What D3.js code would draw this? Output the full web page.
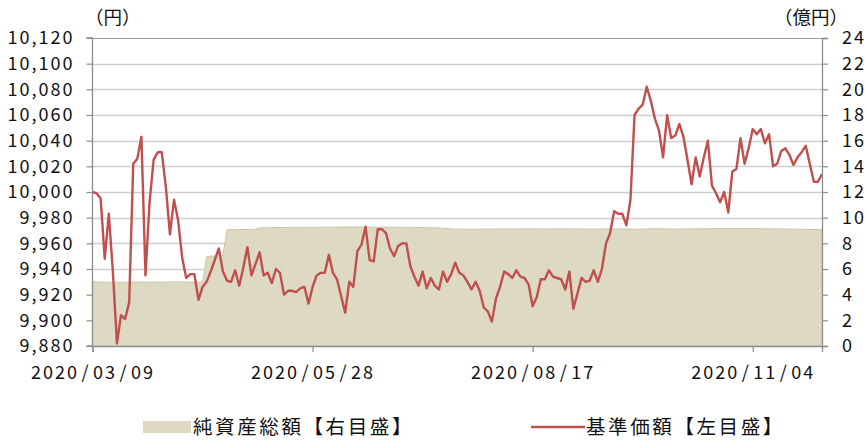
<!DOCTYPE html>
<html><head><meta charset="utf-8">
<script src="https://cdn.jsdelivr.net/npm/d3@7"></script>
<style>
html,body{margin:0;padding:0;background:#fff;}
svg{display:block;}
text{font-family:"Noto Sans CJK JP","Noto Sans",sans-serif;fill:#111;}
</style></head>
<body>
<svg id="c" width="867" height="441"></svg>
<script>
// ---- data ----
const tickLabels = ["2020/03/09","2020/05/28","2020/08/17","2020/11/04"];
const tickIndex = [0,54,108,162];
const leftTicks = [9880,9900,9920,9940,9960,9980,10000,10020,10040,10060,10080,10100,10120];
const rightTicks = [0,2,4,6,8,10,12,14,16,18,20,22,24];
const navPrice = [
10000,9999,9995,9948,9983,9938,9882,9904,9901,9914,
10022,10026,10043,9935,9992,10025,10031,10031,10004,9967,
9994,9978,9949,9933,9936,9936,9916,9926,9930,9938,
9947,9956,9938,9931,9930,9939,9927,9941,9957,9935,
9944,9953,9935,9937,9929,9940,9937,9920,9923,9923,
9922,9925,9926,9913,9926,9935,9937,9937,9951,9937,
9932,9919,9906,9930,9926,9954,9959,9973,9947,9946,
9971,9971,9968,9956,9950,9958,9960,9960,9942,9934,
9927,9938,9925,9933,9927,9924,9938,9930,9936,9945,
9937,9935,9930,9924,9930,9923,9910,9907,9899,9917,
9926,9938,9936,9933,9939,9934,9933,9928,9911,9918,
9932,9932,9939,9934,9933,9932,9924,9938,9909,9921,
9933,9930,9931,9939,9930,9940,9960,9968,9985,9983,
9983,9974,9994,10060,10065,10068,10082,10071,10057,10048,
10027,10060,10042,10044,10053,10043,10025,10006,10027,10012,
10027,10040,10005,9999,9992,10000,9984,10016,10018,10042,
10022,10034,10049,10045,10049,10038,10045,10020,10022,10032,
10034,10029,10021,10027,10031,10036,10022,10008,10008,10014
];
const netAssets = [
5.00,5.00,4.98,4.97,4.98,4.97,4.96,4.97,4.97,4.97,
4.98,4.98,4.98,4.97,4.98,4.98,4.98,4.98,4.98,4.99,
4.99,4.99,4.99,4.98,4.98,4.97,4.97,4.98,
6.95,7.00,7.02,7.03,7.05,
9.05,9.07,9.07,9.07,9.07,9.08,9.08,9.10,
9.20,9.21,9.22,9.22,9.23,9.23,9.23,9.24,9.24,9.24,
9.24,9.25,9.25,9.25,9.25,9.25,9.26,9.26,9.26,9.27,
9.27,9.27,9.28,9.28,9.28,9.28,9.27,9.27,9.27,9.26,
9.26,9.26,9.26,9.25,9.25,9.25,9.24,9.24,9.24,9.23,
9.23,9.22,9.22,9.21,9.20,9.18,9.15,
9.12,9.11,9.11,9.11,9.10,9.10,9.10,9.10,9.11,9.11,
9.11,9.11,9.12,9.12,9.12,9.12,9.12,9.13,9.13,9.13,
9.13,9.13,9.12,9.12,9.12,9.12,9.13,9.13,9.13,9.13,
9.12,9.12,9.12,9.12,9.11,9.11,9.11,9.12,9.12,9.12,
9.12,9.12,9.12,9.11,9.11,9.10,9.10,9.11,9.12,9.13,
9.14,9.14,9.13,9.12,9.12,9.11,9.11,9.12,9.12,9.13,
9.13,9.14,9.14,9.14,9.15,9.15,9.15,9.15,9.16,9.16,
9.16,9.16,9.16,9.15,9.15,9.15,9.14,9.14,9.13,9.13,
9.13,9.12,9.12,9.11,9.11,9.10,9.10,9.09,9.08,9.08,9.07,9.07
];
const legendLabels = ["純資産総額【右目盛】","基準価額【左目盛】"];
const unitLeft = "（円）", unitRight = "（億円）";

// ---- layout ----
const L = 92.5, R = 822, T = 38, B = 346;
const svg = d3.select("#c");
const x = d3.scaleLinear().domain([0, navPrice.length - 1]).range([L, R]);
const yL = d3.scaleLinear().domain([9880, 10120]).range([B, T]);
const yR = d3.scaleLinear().domain([0, 24]).range([B, T]);

// gridlines
svg.append("g").selectAll("line").data(leftTicks.slice(1)).join("line")
  .attr("x1", L).attr("x2", R)
  .attr("y1", d => Math.round(yL(d)) + 0.5).attr("y2", d => Math.round(yL(d)) + 0.5)
  .attr("stroke", d => d === 10120 ? "#9a9a9a" : "#cfcfcf")
  .attr("stroke-width", d => d === 10120 ? 1.2 : 1.6);

// area (net assets, right axis)
const area = d3.area().x((d, i) => x(i)).y0(B).y1(d => yR(d));
svg.append("path").datum(netAssets).attr("d", area)
  .attr("fill", "#ddd9c3").attr("stroke", "#cdc6a8").attr("stroke-width", 1);

// line (NAV price, left axis)
const line = d3.line().x((d, i) => x(i)).y(d => yL(d));
svg.append("path").datum(navPrice).attr("d", line)
  .attr("fill", "none").attr("stroke", "#c0504d").attr("stroke-width", 2.4)
  .attr("stroke-linejoin", "round");

// axes
const axL = d3.axisLeft(yL).tickValues(leftTicks).tickSize(6).tickPadding(12).tickFormat(d3.format(","));
const axR = d3.axisRight(yR).tickValues(rightTicks).tickSize(6).tickPadding(14);
const axB = d3.axisBottom(x).tickValues(tickIndex).tickSize(6).tickPadding(14)
  .tickFormat((d, i) => tickLabels[i]);

function styleAxis(g) {
  g.select(".domain").attr("stroke", "#8c8c8c").attr("stroke-width", 1.3);
  g.selectAll(".tick line").attr("stroke", "#8c8c8c").attr("stroke-width", 1.2);
  g.selectAll(".tick text").attr("font-size", 18)
    .attr("font-family", '"Noto Sans CJK JP","Noto Sans",sans-serif').attr("fill", "#111");
}
svg.append("g").attr("transform", `translate(${L},0)`).call(axL).call(styleAxis)
  .call(g => g.select(".domain").attr("d", `M-6,${T}H0V${B}H-6`))
  .call(g => g.selectAll(".tick text").attr("letter-spacing", 2));
svg.append("g").attr("transform", `translate(${R},0)`).call(axR).call(styleAxis)
  .call(g => g.selectAll(".tick text").attr("letter-spacing", 2));
svg.append("g").attr("transform", `translate(0,${B})`).call(axB).call(styleAxis)
  .call(g => g.selectAll(".tick text").each(function(d, i) {
    const t = d3.select(this);
    const parts = tickLabels[i].split("/");
    t.text(null).attr("letter-spacing", 2);
    parts.forEach((p, k) => {
      if (k > 0) t.append("tspan").attr("dx", 2.5).text("/");
      t.append("tspan").attr("dx", k > 0 ? 2.5 : 0).text(p);
    });
  }));

// units
svg.append("text").attr("x", 85).attr("y", 24).attr("font-size", 18.5).text(unitLeft);
svg.append("text").attr("x", 848).attr("y", 24).attr("font-size", 18.5).attr("text-anchor", "end").text(unitRight);

// legend
const lg = svg.append("g");
lg.append("rect").attr("x", 143).attr("y", 421).attr("width", 48).attr("height", 12).attr("fill", "#ddd9c3");
lg.append("text").attr("x", 193).attr("y", 434).attr("font-size", 19.5).attr("letter-spacing", 2.6).text(legendLabels[0]);
lg.append("line").attr("x1", 531).attr("x2", 585).attr("y1", 427).attr("y2", 427)
  .attr("stroke", "#c0504d").attr("stroke-width", 2.4);
lg.append("text").attr("x", 586).attr("y", 434).attr("font-size", 19.5).attr("letter-spacing", 2.6).text(legendLabels[1]);
</script>
</body></html>
